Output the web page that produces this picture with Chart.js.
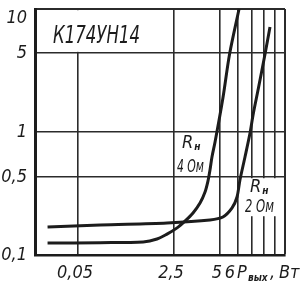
<!DOCTYPE html>
<html><head><meta charset="utf-8">
<script src="https://cdn.jsdelivr.net/npm/chart.js@4/dist/chart.umd.min.js"></script>
<style>html,body{margin:0;padding:0;background:#fff}#wrap{width:302px;height:285px}</style>
</head><body><div id="wrap"><canvas id="c" width="302" height="285"></canvas></div>
<script>
// ---- data ----
const chartTitle = 'К174УН14';
const yTickValues = [0.1, 0.5, 1, 5, 10];
const yTickLabels = ['0,1', '0,5', '1', '5', '10'];
const xTickValues = [0.05, 2.5, 5, 6, 7, 8, 9, 10];
const xTickLabels = ['0,05', '2,5', '5', '6', '', '', '', ''];
const seriesNames = ['Rн 4 Ом', 'Rн 2 Ом'];
const p4   = [0.016, 0.123, 0.71, 1.25, 1.88, 2.62, 2.96, 3.33, 3.70, 3.99, 4.17, 4.30, 4.43, 4.64, 5.15, 5.51, 6.07];
const thd4 = [0.128, 0.129, 0.131, 0.139, 0.154, 0.175, 0.202, 0.238, 0.292, 0.367, 0.460, 0.557, 0.681, 0.857, 2.0, 4.9, 10];
const p2   = [0.016, 0.123, 1.88, 4.30, 5.15, 5.65, 5.94, 6.13, 6.48, 6.85, 7.08, 7.52, 8.09, 8.53];
const thd2 = [0.178, 0.186, 0.194, 0.206, 0.219, 0.264, 0.331, 0.470, 0.681, 0.985, 1.41, 2.45, 4.90, 7.53];

// ---- scale geometry (non-uniform printed grid) ----
const yBreaks = [0.1, 0.5, 1, 5, 10];
const yFracs  = [0, 0.317, 0.5, 0.821, 1];
const xBreaks = [0.01, 0.05, 2.5, 5, 6, 7, 8, 9, 10];
const xFracs  = [0, 0.172, 0.556, 0.74, 0.812, 0.868, 0.916, 0.96, 1];

const FONT = "'Liberation Sans Narrow', 'DejaVu Sans Condensed', 'Liberation Sans', sans-serif";
const INK = '#1c1c1c';

function makeBreakScale(id, breaks, fracs, tickValues) {
  const L = breaks.map(Math.log10);
  class S extends Chart.LinearScale {
    determineDataLimits() { this.min = breaks[0]; this.max = breaks[breaks.length - 1]; }
    buildTicks() { return tickValues.map(v => ({ value: v })); }
    getPixelForValue(v) {
      const lv = Math.log10(Math.max(v, 1e-9));
      let i = 0;
      while (i < L.length - 2 && lv > L[i + 1]) i++;
      const t = (lv - L[i]) / (L[i + 1] - L[i]);
      return this.getPixelForDecimal(fracs[i] + t * (fracs[i + 1] - fracs[i]));
    }
    getValueForPixel(p) {
      const d = this.getDecimalForPixel(p);
      let i = 0;
      while (i < fracs.length - 2 && d > fracs[i + 1]) i++;
      const t = (d - fracs[i]) / (fracs[i + 1] - fracs[i]);
      return Math.pow(10, L[i] + t * (L[i + 1] - L[i]));
    }
  }
  S.id = id;
  S.defaults = {};
  Chart.register(S);
}
makeBreakScale('breaksX', xBreaks, xFracs, xTickValues);
makeBreakScale('breaksY', yBreaks, yFracs, yTickValues);

const toPts = (xs, ys) => xs.map((v, i) => ({ x: v, y: ys[i] }));

const notes = {
  id: 'notes',
  beforeDatasetsDraw(chart) {
    const { ctx, chartArea: a, scales: { x, y } } = chart;
    ctx.save();
    ctx.fillStyle = '#fff';
    // title box interior (grid does not run through it)
    const bx1 = x.getPixelForValue(2.5) - 1.2, by1 = y.getPixelForValue(5) - 1.2;
    ctx.fillRect(a.left + 2, a.top + 1.2, bx1 - a.left - 2, by1 - a.top - 1.2);
    // gap in grid behind the 2-ohm label
    ctx.fillRect(244, y.getPixelForValue(0.5) + 1.2, 37, 38);

    ctx.fillStyle = INK;
    ctx.textBaseline = 'alphabetic';
    ctx.textAlign = 'left';
    function fit(text, x0, y0, width) {
      const w = ctx.measureText(text).width;
      ctx.save();
      ctx.translate(x0, y0);
      ctx.scale(width / w, 1);
      ctx.fillText(text, 0, 0);
      ctx.restore();
    }
    // title
    ctx.font = `italic 24px ${FONT}`;
    fit(chartTitle, 53, 43, 87);

    const big = `italic 18px ${FONT}`, small = `italic bold 10px ${FONT}`;
    function rLabel(xr, yr, x2, y2, w2, name) {
      const parts = name.split(' ');
      ctx.font = big; ctx.fillText(parts[0][0], xr, yr);
      const rw = ctx.measureText(parts[0][0]).width;
      ctx.font = small; ctx.fillText(parts[0].slice(1), xr + rw + 1, yr + 2);
      ctx.font = big; fit(parts.slice(1).join(' '), x2, y2, w2);
    }
    rLabel(182, 148, 177, 172, 27, seriesNames[0]);
    rLabel(250, 192, 245, 212, 29, seriesNames[1]);

    // axis unit
    ctx.font = `italic 18px ${FONT}`;
    ctx.fillText('P', 237, 278);
    ctx.font = small; ctx.fillText('вых', 248, 281);
    ctx.font = `italic 18px ${FONT}`;
    ctx.fillText(',', 270, 278);
    ctx.fillText('Вт', 279, 278);
    ctx.restore();
  }
};

const tickFont = { family: FONT, size: 18, style: 'italic', lineHeight: 1 };

new Chart(document.getElementById('c'), {
  type: 'line',
  data: {
    datasets: [
      { label: seriesNames[0], data: toPts(p4, thd4) },
      { label: seriesNames[1], data: toPts(p2, thd2) }
    ]
  },
  options: {
    responsive: false,
    animation: false,
    events: [],
    layout: { padding: { top: 9, right: 17, left: 0, bottom: 0 } },
    elements: {
      line: { borderColor: INK, borderWidth: 3, tension: 0.3, fill: false },
      point: { radius: 0 }
    },
    plugins: { legend: { display: false }, tooltip: { enabled: false } },
    scales: {
      x: {
        type: 'breaksX',
        afterFit: s => { s.height = 30; s.paddingLeft = 0; s.paddingRight = 0; },
        grid: { color: '#2b2b2b', lineWidth: c => (c.tick && c.tick.value === 10 ? 2 : 1.6), drawTicks: false },
        border: { color: INK, width: 2.5 },
        ticks: {
          font: tickFont, color: INK, padding: 9, autoSkip: false, maxRotation: 0, labelOffset: -3,
          callback: (v, i) => (xTickLabels[i] === '6' ? '6  ' : xTickLabels[i])
        }
      },
      y: {
        type: 'breaksY',
        afterFit: s => { s.width = 35; s.paddingTop = 0; s.paddingBottom = 0; },
        grid: { color: '#2b2b2b', lineWidth: c => (c.tick && c.tick.value === 10 ? 2 : 1.6), drawTicks: false },
        border: { color: INK, width: 3 },
        ticks: {
          font: tickFont, color: INK, padding: 8, autoSkip: false,
          callback: (v, i) => (i === yTickLabels.length - 1 ? ['', yTickLabels[i]] : yTickLabels[i])
        }
      }
    }
  },
  plugins: [notes]
});
</script>
</body></html>
